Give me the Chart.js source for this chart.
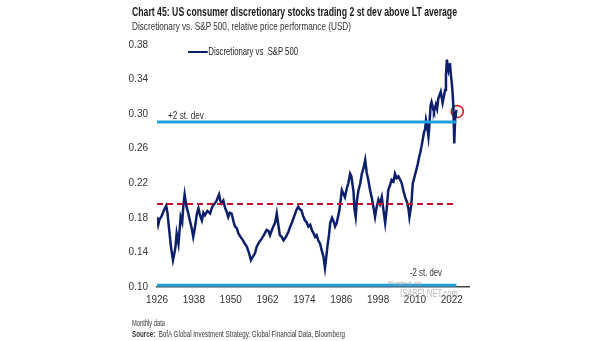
<!DOCTYPE html>
<html>
<head>
<meta charset="utf-8">
<script src="https://cdn.jsdelivr.net/npm/chart.js@4.4.0/dist/chart.umd.min.js"></script>
<style>
  body { margin: 0; background: #fff; }
  #wrap { position: relative; width: 605px; height: 341px; overflow: hidden; font-family: "Liberation Sans Narrow", "Liberation Sans", Arial, sans-serif; color: #222; }
  #wrap canvas { position: absolute; left: 0; top: 0; }
  .txt { position: absolute; white-space: nowrap; transform-origin: 0 50%; }
  #title { left: 132px; top: 4px; font-size: 13px; font-weight: bold; color: #1a1a1a; }
  #subtitle { left: 132px; top: 20px; font-size: 11px; color: #333; }
  #legend { left: 188px; top: 45px; font-size: 11px; color: #222; }
  #legend span.sw { display: inline-block; width: 28px; height: 2.5px; background: #0c1f6b; vertical-align: middle; margin-right: 1px; }
  #plus2 { left: 168px; top: 109px; font-size: 10.5px; color: #333; }
  #minus2 { left: 410px; top: 266px; font-size: 10.5px; color: #333; }
  #note { left: 132px; top: 317px; font-size: 9.5px; color: #333; }
  #source { left: 132px; top: 328px; font-size: 9.5px; color: #333; }
  #wm1 { left: 388px; top: 279px; font-size: 8px; color: #999; opacity: 0.8; }
  #wm2 { left: 400px; top: 288px; font-size: 10px; color: #aaa; opacity: 0.8; }
</style>
</head>
<body>
<div id="wrap">
  <canvas id="myChart" width="605" height="341"></canvas>
  <div class="txt" id="title" data-w="325">Chart 45: US consumer discretionary stocks trading 2 st dev above LT average</div>
  <div class="txt" id="subtitle" data-w="219">Discretionary vs. S&amp;P 500, relative price performance (USD)</div>
  <div class="txt" id="legend" data-w="110"><span class="sw"></span>Discretionary vs&nbsp; S&amp;P 500</div>
  <div class="txt" id="plus2" data-w="36">+2 st. dev</div>
  <div class="txt" id="minus2" data-w="32">-2 st. dev</div>
  <div class="txt" id="wm1" data-w="34">Posted on</div>
  <div class="txt" id="wm2" data-w="58">ISABELNET.com</div>
  <div class="txt" id="note" data-w="33">Monthly data</div>
  <div class="txt" id="source" data-w="213"><b>Source:</b>&nbsp; BofA Global Investment Strategy, Global Financial Data, Bloomberg</div>
</div>
<script>
// relative price (year as decimal)
const years = [
  1926.0, 1926.4, 1926.8, 1927.5, 1928.3, 1929.0, 1929.4, 1930.0, 1930.6, 1931.2,
  1931.6, 1932.0, 1932.4, 1933.0, 1933.7, 1934.2, 1934.6, 1935.0, 1935.6, 1936.2,
  1936.7, 1937.3, 1937.8, 1938.4, 1939.0, 1939.5, 1940.0, 1940.6, 1941.1, 1941.6,
  1942.4, 1943.3, 1943.9, 1944.4, 1945.3, 1946.2, 1946.6, 1947.0, 1947.6, 1948.2,
  1948.7, 1949.2, 1949.7, 1950.3, 1950.9, 1951.4, 1952.0, 1952.5, 1953.2, 1954.0,
  1954.6, 1955.2, 1955.9, 1956.6, 1957.2, 1957.9, 1958.5, 1959.3, 1960.1, 1960.8,
  1961.7, 1962.3, 1962.8, 1963.4, 1963.9, 1964.5, 1965.0, 1965.5, 1966.0, 1966.6,
  1967.2, 1968.0, 1968.8, 1969.4, 1969.9, 1970.5, 1971.0, 1971.5, 1972.0, 1972.5,
  1973.0, 1973.6, 1974.2, 1974.7, 1975.3, 1975.9, 1976.4, 1977.0, 1977.5, 1978.0,
  1978.5, 1979.1, 1979.6, 1980.2, 1980.7, 1981.1, 1981.5, 1982.0, 1982.4, 1983.0,
  1983.4, 1984.0, 1984.5, 1985.0, 1985.4, 1986.2, 1986.7, 1987.2, 1987.8, 1988.3,
  1988.9, 1989.3, 1990.0, 1990.3, 1990.7, 1991.1, 1991.6, 1992.2, 1992.7, 1993.3,
  1993.8, 1994.3, 1994.8, 1995.4, 1995.9, 1996.5, 1997.0, 1997.5, 1998.1, 1998.6,
  1999.2, 1999.7, 2000.3, 2000.8, 2001.3, 2001.9, 2002.4, 2003.0, 2003.5, 2004.0,
  2004.6, 2005.2, 2005.7, 2006.2, 2006.8, 2007.5, 2007.9, 2008.2, 2008.8, 2009.3,
  2009.9, 2010.4, 2010.9, 2011.4, 2011.7, 2012.1, 2012.5, 2013.0, 2013.3, 2013.6,
  2014.0, 2014.4, 2014.6, 2015.1, 2015.4, 2016.0, 2016.2, 2016.8, 2017.2, 2017.6,
  2018.0, 2018.4, 2019.0, 2019.4, 2019.8, 2020.1, 2020.4, 2020.7, 2020.9, 2021.2,
  2021.4, 2021.7, 2022.0, 2022.3, 2022.5, 2022.8, 2023.1, 2023.3, 2023.5
];
const relPerf = [
  0.181, 0.172, 0.178, 0.182, 0.189, 0.194, 0.186, 0.165, 0.145, 0.131,
  0.138, 0.146, 0.162, 0.150, 0.181, 0.175, 0.195, 0.207, 0.193, 0.185,
  0.177, 0.168, 0.158, 0.170, 0.185, 0.191, 0.183, 0.177, 0.186, 0.183,
  0.188, 0.185, 0.192, 0.195, 0.199, 0.207, 0.200, 0.197, 0.200, 0.191,
  0.187, 0.181, 0.186, 0.185, 0.176, 0.170, 0.168, 0.162, 0.158, 0.154,
  0.150, 0.147, 0.140, 0.131, 0.135, 0.139, 0.147, 0.152, 0.156, 0.160,
  0.166, 0.165, 0.160, 0.166, 0.170, 0.175, 0.185, 0.172, 0.160, 0.158,
  0.154, 0.158, 0.164, 0.170, 0.174, 0.180, 0.185, 0.190, 0.193, 0.190,
  0.189, 0.182, 0.177, 0.175, 0.170, 0.172, 0.166, 0.162, 0.158, 0.160,
  0.154, 0.150, 0.143, 0.135, 0.122, 0.134, 0.147, 0.160, 0.174, 0.180,
  0.177, 0.170, 0.174, 0.182, 0.189, 0.212, 0.208, 0.204, 0.214, 0.220,
  0.231, 0.228, 0.210, 0.190, 0.181, 0.200, 0.212, 0.220, 0.231, 0.238,
  0.247, 0.232, 0.224, 0.212, 0.204, 0.192, 0.181, 0.192, 0.201, 0.196,
  0.204, 0.190, 0.174, 0.190, 0.212, 0.218, 0.224, 0.222, 0.231, 0.226,
  0.228, 0.224, 0.220, 0.212, 0.204, 0.197, 0.190, 0.181, 0.195, 0.220,
  0.228, 0.235, 0.242, 0.251, 0.255, 0.262, 0.270, 0.280, 0.282, 0.293,
  0.286, 0.274, 0.282, 0.310, 0.314, 0.305, 0.303, 0.311, 0.306, 0.318,
  0.322, 0.326, 0.313, 0.320, 0.328, 0.345, 0.363, 0.355, 0.351, 0.357,
  0.359, 0.345, 0.336, 0.322, 0.309, 0.266, 0.297, 0.300, 0.305
];

// long term average and +/- 2 st dev bands
const bandYears = [1926, 2023.5];
const ltAverage = 0.196;
const plus2sd = 0.291;
const minus2sd = 0.102;

// latest reading, circled
const latestPoint = [2023.8, 0.303];

const xTicks = [1926, 1938, 1950, 1962, 1974, 1986, 1998, 2010, 2022];
const yTicks = [0.10, 0.14, 0.18, 0.22, 0.26, 0.30, 0.34, 0.38];

function flat(level) {
  return bandYears.map(y => ({ x: y, y: level }));
}

const series = years.map((y, i) => ({ x: y, y: relPerf[i] }));
const tickFont = { family: '"Liberation Sans Narrow", "Liberation Sans", Arial', size: 10 };

const myChart = new Chart(document.getElementById('myChart'), {
  type: 'line',
  data: {
    datasets: [
      { data: flat(plus2sd), borderColor: '#1fa0de', borderWidth: 3, pointRadius: 0, clip: false },
      { data: flat(minus2sd), borderColor: '#1fa0de', borderWidth: 3, pointRadius: 0, clip: false },
      { data: flat(ltAverage), borderColor: '#c8102e', borderWidth: 2, borderDash: [6, 4], pointRadius: 0, clip: false },
      { label: 'Discretionary vs  S&P 500', data: series, borderColor: '#0c1f6b', borderWidth: 2.5, pointRadius: 0, tension: 0 },
      { data: [{ x: latestPoint[0], y: latestPoint[1] }], showLine: false, pointRadius: 6, pointBorderColor: '#e3141b',
        pointBackgroundColor: 'rgba(0,0,0,0)', pointBorderWidth: 1.6, clip: false }
    ]
  },
  options: {
    responsive: false,
    animation: false,
    events: [],
    layout: { padding: { left: 0, right: 136, top: 45, bottom: 0 } },
    plugins: { legend: { display: false }, tooltip: { enabled: false } },
    scales: {
      x: {
        type: 'linear',
        min: 1926,
        max: 2027.6,
        grid: { display: false, drawTicks: false },
        border: { display: true, color: '#444', width: 1.5 },
        afterBuildTicks: s => { s.ticks = xTicks.map(v => ({ value: v })); },
        afterFit: s => { s.height = 54; },
        ticks: {
          padding: 7,
          maxRotation: 0,
          autoSkip: false,
          color: '#333',
          font: tickFont,
          callback: v => String(v)
        }
      },
      y: {
        min: 0.10,
        max: 0.38,
        grid: { display: false, drawTicks: false },
        border: { display: false },
        afterBuildTicks: s => { s.ticks = yTicks.map(v => ({ value: v })); },
        afterFit: s => { s.width = 157; },
        ticks: {
          padding: 9,
          color: '#333',
          font: tickFont,
          callback: v => v.toFixed(2)
        }
      }
    }
  }
});

// squeeze the condensed texts to the widths seen in the picture
document.querySelectorAll('.txt[data-w]').forEach(el => {
  var target = parseFloat(el.dataset.w);
  var w = el.getBoundingClientRect().width;
  if (w > 0) el.style.transform = 'scaleX(' + (target / w) + ')';
});
</script>
</body>
</html>
